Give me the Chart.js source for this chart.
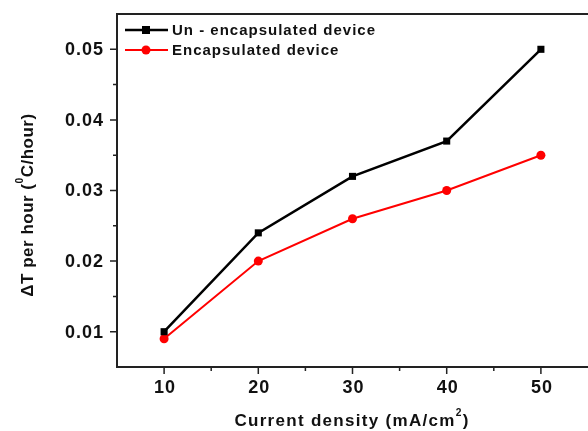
<!DOCTYPE html>
<html>
<head>
<meta charset="utf-8">
<script src="https://cdn.jsdelivr.net/npm/chart.js@4"></script>
<style>
html, body { margin: 0; padding: 0; background: #fff; }
#wrap { width: 588px; height: 431px; }
</style>
</head>
<body>
<div id="wrap"><canvas id="tempChart" width="588" height="431"></canvas></div>
<script>
// Heating rate vs current density
const currentDensity = [10, 20, 30, 40, 50];
const unEncapsulated = [0.010, 0.024, 0.032, 0.037, 0.050];
const encapsulated = [0.009, 0.020, 0.026, 0.030, 0.035];
const seriesNames = ['Un - encapsulated device', 'Encapsulated device'];
const xTicks = [10, 20, 30, 40, 50];
const xMinorTicks = [15, 25, 35, 45];
const yTicks = [0.01, 0.02, 0.03, 0.04, 0.05];
const yMinorTicks = [0.015, 0.025, 0.035, 0.045];

const FONT = '"Liberation Sans", Arial, sans-serif';
const AXIS = '#222';

// draws text pieces in a row, some of them as small superscripts
function drawPieces(ctx, pieces, cx, cy, size) {
    let total = 0;
    pieces.forEach(p => {
        ctx.font = 'bold ' + (p.sup ? size * 0.6 : size) + 'px ' + FONT;
        p.w = ctx.measureText(p.text).width;
        total += p.w;
    });
    let x = cx - total / 2;
    pieces.forEach(p => {
        ctx.font = 'bold ' + (p.sup ? size * 0.6 : size) + 'px ' + FONT;
        ctx.fillText(p.text, x, p.sup ? cy - size * 0.45 : cy);
        x += p.w;
    });
}

const axisDecor = {
    id: 'axisDecor',
    afterDraw(chart) {
        const ctx = chart.ctx;
        const area = chart.chartArea;
        const xs = chart.scales.x, ys = chart.scales.y;
        ctx.save();
        ctx.strokeStyle = AXIS;
        ctx.fillStyle = '#111';

        // top frame line
        ctx.lineWidth = 2;
        ctx.beginPath();
        ctx.moveTo(area.left, area.top);
        ctx.lineTo(area.right, area.top);
        ctx.stroke();

        // tick marks
        ctx.lineWidth = 1.5;
        ctx.beginPath();
        xTicks.forEach(v => { const px = xs.getPixelForValue(v); ctx.moveTo(px, area.bottom); ctx.lineTo(px, area.bottom + 7); });
        xMinorTicks.forEach(v => { const px = xs.getPixelForValue(v); ctx.moveTo(px, area.bottom); ctx.lineTo(px, area.bottom + 4); });
        yTicks.forEach(v => { const py = ys.getPixelForValue(v); ctx.moveTo(area.left, py); ctx.lineTo(area.left - 7, py); });
        yMinorTicks.forEach(v => { const py = ys.getPixelForValue(v); ctx.moveTo(area.left, py); ctx.lineTo(area.left - 4, py); });
        ctx.stroke();

        // tick labels
        ctx.font = 'bold 18px ' + FONT;
        ctx.letterSpacing = '1px';
        ctx.textBaseline = 'middle';
        ctx.textAlign = 'center';
        xTicks.forEach(v => ctx.fillText(String(v), xs.getPixelForValue(v) + 1, area.bottom + 21));
        ctx.textAlign = 'right';
        yTicks.forEach(v => ctx.fillText(v.toFixed(2), area.left - 13, ys.getPixelForValue(v) + 1));

        // axis titles
        ctx.textAlign = 'left';
        ctx.letterSpacing = '1.3px';
        drawPieces(ctx, [{ text: 'Current density (mA/cm' }, { text: '2', sup: true }, { text: ')' }], 352, 421, 17);
        ctx.save();
        ctx.translate(28, 205);
        ctx.rotate(-Math.PI / 2);
        ctx.letterSpacing = '0.5px';
        drawPieces(ctx, [{ text: '\u0394T per hour (' }, { text: '0', sup: true }, { text: 'C/hour)' }], 0, 0, 17);
        ctx.restore();

        // legend
        ctx.letterSpacing = '1px';
        ctx.font = 'bold 15px ' + FONT;
        chart.data.datasets.forEach((ds, i) => {
            const y = 30 + i * 20;
            ctx.strokeStyle = ds.borderColor;
            ctx.lineWidth = ds.borderWidth;
            ctx.beginPath();
            ctx.moveTo(125, y);
            ctx.lineTo(168, y);
            ctx.stroke();
            ctx.fillStyle = ds.pointBackgroundColor;
            ctx.beginPath();
            if (ds.pointStyle === 'rect') ctx.rect(142, y - 4, 8, 8);
            else ctx.arc(146, y, 4.5, 0, Math.PI * 2);
            ctx.fill();
            ctx.fillStyle = '#111';
            ctx.fillText(ds.label, 172, y + 1);
        });
        ctx.restore();
    }
};

const ctx = document.getElementById('tempChart').getContext('2d');
const tempChart = new Chart(ctx, {
    type: 'line',
    data: {
        datasets: [
            {
                label: seriesNames[0],
                data: currentDensity.map((x, i) => ({ x: x, y: unEncapsulated[i] })),
                borderColor: '#000',
                backgroundColor: '#000',
                pointBackgroundColor: '#000',
                pointBorderWidth: 0,
                borderWidth: 2.5,
                pointStyle: 'rect',
                pointRadius: 5,
                tension: 0
            },
            {
                label: seriesNames[1],
                data: currentDensity.map((x, i) => ({ x: x, y: encapsulated[i] })),
                borderColor: '#ff0000',
                backgroundColor: '#ff0000',
                pointBackgroundColor: '#ff0000',
                pointBorderWidth: 0,
                borderWidth: 2,
                pointStyle: 'circle',
                pointRadius: 4.5,
                tension: 0
            }
        ]
    },
    options: {
        responsive: false,
        animation: false,
        layout: { autoPadding: false, padding: { top: 14, right: 0, left: 0, bottom: 0 } },
        plugins: {
            legend: { display: false },
            tooltip: { enabled: false }
        },
        scales: {
            x: {
                type: 'linear',
                min: 5,
                max: 55,
                grid: { display: false },
                border: { display: true, color: AXIS, width: 2 },
                ticks: { display: false },
                afterFit: s => { s.height = 64; }
            },
            y: {
                type: 'linear',
                min: 0.005,
                max: 0.055,
                grid: { display: false },
                border: { display: true, color: AXIS, width: 2 },
                ticks: { display: false },
                afterFit: s => { s.width = 117; }
            }
        }
    },
    plugins: [axisDecor]
});
</script>
</body>
</html>
